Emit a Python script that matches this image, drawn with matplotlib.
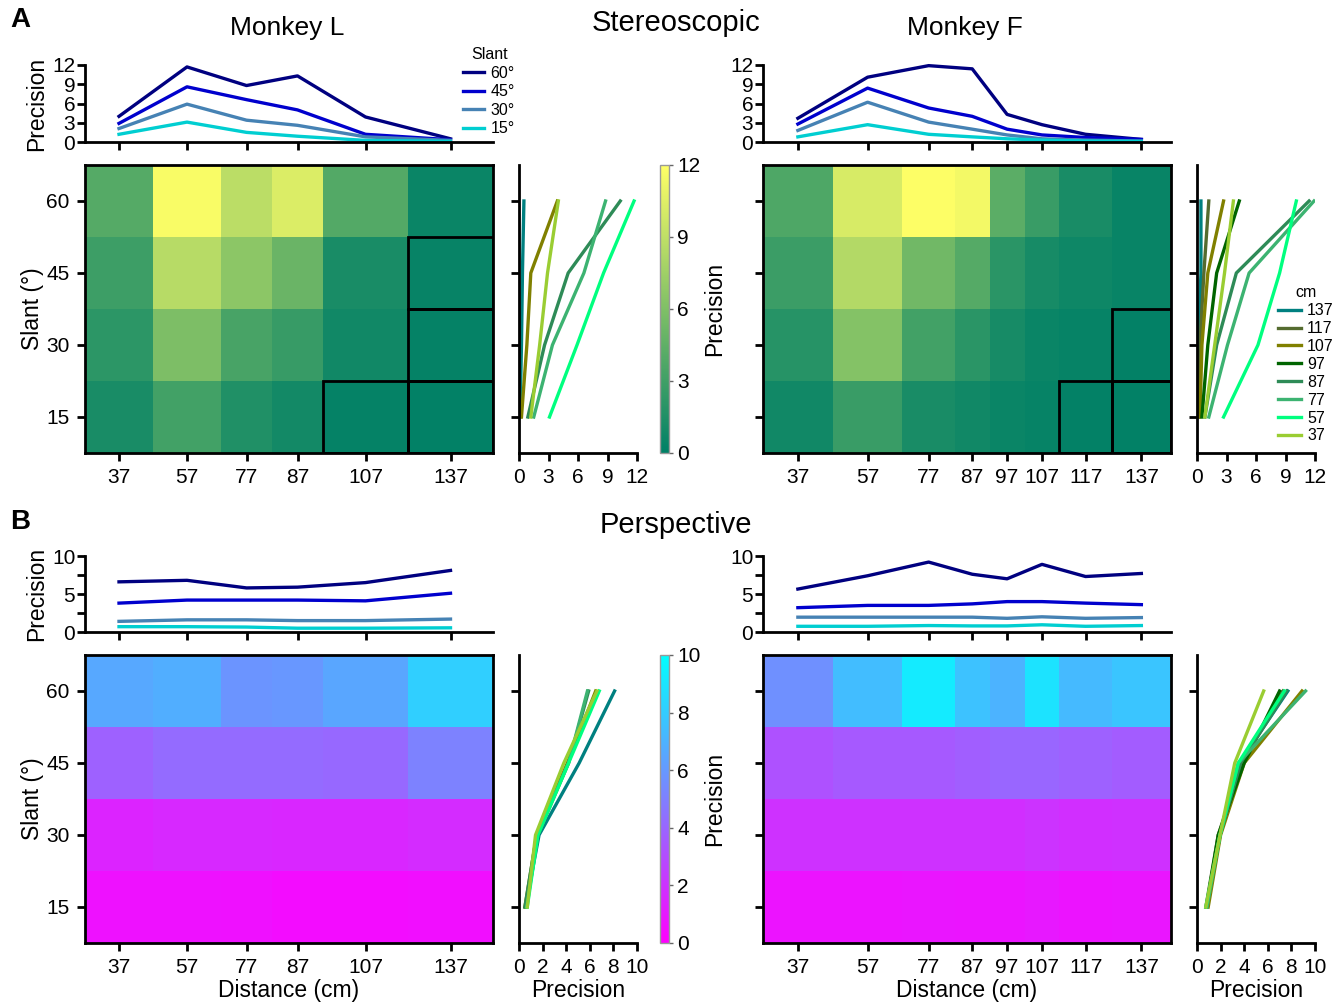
import numpy as np
import matplotlib.pyplot as plt
from matplotlib.patches import Rectangle

plt.rcParams['font.family'] = ['Liberation Sans', 'DejaVu Sans']

slants = [15, 30, 45, 60]
dist_L = [37, 57, 77, 87, 107, 137]
dist_F = [37, 57, 77, 87, 97, 107, 117, 137]

# precision values, rows = slant 15, 30, 45, 60
stereo_L = [
    [1.2, 3.1, 1.5, 0.9, 0.25, 0.1],
    [2.1, 5.9, 3.4, 2.6, 0.8, 0.25],
    [2.9, 8.6, 6.6, 5.0, 1.2, 0.35],
    [4.0, 11.7, 8.8, 10.3, 3.9, 0.5],
]
stereo_F = [
    [0.8, 2.7, 1.2, 0.8, 0.5, 0.3, 0.15, 0.1],
    [1.8, 6.2, 3.1, 2.0, 1.1, 0.5, 0.3, 0.15],
    [2.8, 8.4, 5.3, 4.0, 2.0, 1.1, 0.7, 0.4],
    [3.7, 10.1, 11.9, 11.4, 4.3, 2.7, 1.2, 0.4],
]
persp_L = [
    [0.7, 0.7, 0.65, 0.5, 0.5, 0.55],
    [1.4, 1.6, 1.6, 1.5, 1.5, 1.7],
    [3.8, 4.2, 4.2, 4.2, 4.1, 5.1],
    [6.6, 6.8, 5.8, 5.9, 6.5, 8.1],
]
persp_F = [
    [0.75, 0.75, 0.85, 0.8, 0.8, 0.95, 0.75, 0.85],
    [1.95, 1.95, 1.95, 1.95, 1.8, 2.0, 1.8, 1.9],
    [3.2, 3.5, 3.5, 3.7, 4.0, 4.0, 3.8, 3.6],
    [5.65, 7.4, 9.2, 7.6, 7.0, 8.9, 7.3, 7.7],
]

# outlined cells (slant, distance)
boxed_L = [(45, 137), (30, 137), (15, 107), (15, 137)]
boxed_F = [(30, 137), (15, 117), (15, 137)]

slant_colors = {60: '#000080', 45: '#0000cd', 30: '#4682b4', 15: '#00ced1'}
dist_colors = {137: '#008080', 117: '#556b2f', 107: '#808000', 97: '#006400',
               87: '#2e8b57', 77: '#3cb371', 57: '#00ff7f', 37: '#9acd32'}

# cell edges along the distance axis (layout)
edges_L = [0, 20, 40, 55, 70, 95, 120]
edges_F = [0, 20, 40, 55, 65, 75, 85, 100, 117]
y_edges = [7.5, 22.5, 37.5, 52.5, 67.5]

W, H = 1342, 1007
fig = plt.figure(figsize=(W / 100, H / 100), dpi=100)

TICK = 15
LAB = 16.5
LW = 2


def px_axes(l, t, r, b):
    return fig.add_axes([l / W, 1 - b / H, (r - l) / W, (b - t) / H])


def style(ax):
    for s in ['top', 'right']:
        ax.spines[s].set_visible(False)
    for s in ['left', 'bottom']:
        ax.spines[s].set_linewidth(LW)
    ax.tick_params(width=LW, length=6, labelsize=TICK, pad=3)


def draw_block(data, dists, edges, boxed, cmap, vmax, yticks, ytlabels,
               xticks, top_y, first_col, x0, cbar=False, xlabels=False):
    data = np.array(data)
    centers = [(edges[i] + edges[i + 1]) / 2 for i in range(len(dists))]
    t = top_y

    # top line plot
    ax = px_axes(x0, t[0], x0 + 408, t[1])
    for i in range(len(slants) - 1, -1, -1):
        s = slants[i]
        ax.plot(centers, data[i], color=slant_colors[s], lw=2.4,
                label=f'{s}°', clip_on=False)
    ax.set_xlim(edges[0], edges[-1])
    ax.set_ylim(0, vmax)
    ax.set_xticks(centers)
    ax.set_xticklabels([])
    ax.set_yticks(yticks)
    ax.set_yticklabels(ytlabels)
    style(ax)
    ax.tick_params(axis='y', pad=1)
    if first_col:
        ax.set_ylabel('Precision', fontsize=LAB, labelpad=3)
    top_ax = ax

    # heatmap
    ax = px_axes(x0, t[2], x0 + 408, t[3])
    mesh = ax.pcolormesh(edges, y_edges, data, cmap=cmap, vmin=0, vmax=vmax)
    for s_, d_ in boxed:
        i = slants.index(s_)
        j = dists.index(d_)
        ax.add_patch(Rectangle((edges[j], y_edges[i]), edges[j + 1] - edges[j],
                               15, fill=False, ec='black', lw=2, zorder=3))
    ax.set_xlim(edges[0], edges[-1])
    ax.set_ylim(y_edges[0], y_edges[-1])
    ax.set_xticks(centers)
    ax.set_xticklabels([str(d) for d in dists])
    ax.set_yticks(slants)
    for sp in ax.spines.values():
        sp.set_linewidth(LW)
    ax.tick_params(width=LW, length=6, labelsize=TICK, pad=5)
    if first_col:
        ax.set_ylabel('Slant (°)', fontsize=LAB, labelpad=2)
    else:
        ax.set_yticklabels([])
    if xlabels:
        ax.set_xlabel('Distance (cm)', fontsize=LAB, labelpad=1)

    # side plot
    sx = x0 + 434
    ax = px_axes(sx, t[2], sx + 118, t[3])
    order = sorted(range(len(dists)), key=lambda j: -dists[j])
    for j in order:
        ax.plot(data[:, j], slants, color=dist_colors[dists[j]], lw=2.4,
                label=str(dists[j]))
    ax.set_xlim(0, xticks[-1])
    ax.set_ylim(y_edges[0], y_edges[-1])
    ax.set_xticks(xticks)
    ax.set_yticks(slants)
    ax.set_yticklabels([])
    style(ax)
    ax.tick_params(axis='x', pad=5)
    if xlabels:
        ax.set_xlabel('Precision', fontsize=LAB, labelpad=1)
    side_ax = ax

    if cbar:
        cax = px_axes(660, t[2], 669, t[3])
        cb = fig.colorbar(mesh, cax=cax, ticks=xticks)
        cb.outline.set_edgecolor('#999999')
        cb.outline.set_linewidth(1)
        cax.tick_params(labelsize=TICK, length=3, width=1, color='#666666', pad=3)
        cb.set_label('Precision', fontsize=LAB, labelpad=2)
    return top_ax, side_ax


top_s = (65, 142, 165, 453)
top_p = (556, 632, 655, 943)

axL, _ = draw_block(stereo_L, dist_L, edges_L, boxed_L, 'summer', 12,
                    [0, 3, 6, 9, 12], ['0', '3', '6', '9', '12'],
                    [0, 3, 6, 9, 12], top_s, True, 85, cbar=True)
_, sideF = draw_block(stereo_F, dist_F, edges_F, boxed_F, 'summer', 12,
                      [0, 3, 6, 9, 12], ['0', '3', '6', '9', '12'],
                      [0, 3, 6, 9, 12], top_s, False, 763)
draw_block(persp_L, dist_L, edges_L, [], 'cool_r', 10,
           [0, 2.5, 5, 7.5, 10], ['0', '', '5', '', '10'],
           [0, 2, 4, 6, 8, 10], top_p, True, 85, cbar=True, xlabels=True)
draw_block(persp_F, dist_F, edges_F, [], 'cool_r', 10,
           [0, 2.5, 5, 7.5, 10], ['0', '', '5', '', '10'],
           [0, 2, 4, 6, 8, 10], top_p, False, 763, xlabels=True)

# legends
h, l = axL.get_legend_handles_labels()
fig.legend(h, l, title='Slant', loc='upper left',
           bbox_to_anchor=(457 / W, 1 - 41 / H), frameon=False, fontsize=11.5,
           title_fontsize=11.5, handlelength=1.3, handletextpad=0.4,
           labelspacing=0.22, borderaxespad=0)
h, l = sideF.get_legend_handles_labels()
fig.legend(h, l, title='cm', loc='upper left',
           bbox_to_anchor=(1272 / W, 1 - 279 / H), frameon=False, fontsize=11.5,
           title_fontsize=11.5, handlelength=1.4, handletextpad=0.4,
           labelspacing=0.18, borderaxespad=0)

# titles
fig.text(10 / W, 1 - 20 / H, 'A', fontsize=20, fontweight='bold', va='center')
fig.text(10 / W, 1 - 522 / H, 'B', fontsize=20, fontweight='bold', va='center')
fig.text(676 / W, 1 - 23 / H, 'Stereoscopic', fontsize=21, ha='center', va='center')
fig.text(676 / W, 1 - 525 / H, 'Perspective', fontsize=21, ha='center', va='center')
fig.text(287 / W, 1 - 28 / H, 'Monkey L', fontsize=19, ha='center', va='center')
fig.text(965 / W, 1 - 28 / H, 'Monkey F', fontsize=19, ha='center', va='center')

fig.savefig('out.png', dpi=100)
